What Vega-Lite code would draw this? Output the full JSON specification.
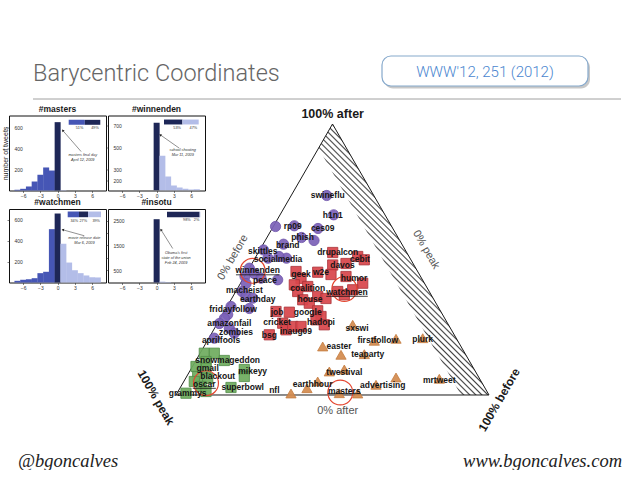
{
"$schema": "https://vega.github.io/schema/vega-lite/v6.json",
"padding": 0,
"background": "#ffffff",
"columns": 3,
"align": "none",
"bounds": "flush",
"spacing": {"row": 18.5, "column": 2},
"config": {"view": {"stroke": null}, "font": "Liberation Sans", "title": {"font": "Liberation Sans"}, "axis": {"labelFont": "Liberation Sans", "titleFont": "Liberation Sans"}},
"datasets": {
"hist": [
{"tag":"masters","day":-7,"tweets":7,"phase":"before"},
{"tag":"masters","day":-6,"tweets":16,"phase":"before"},
{"tag":"masters","day":-5,"tweets":38,"phase":"before"},
{"tag":"masters","day":-4,"tweets":85,"phase":"before"},
{"tag":"masters","day":-3,"tweets":149,"phase":"before"},
{"tag":"masters","day":-2,"tweets":218,"phase":"before"},
{"tag":"masters","day":-1,"tweets":189,"phase":"before"},
{"tag":"masters","day":0,"tweets":647,"phase":"peak"},
{"tag":"masters","day":1,"tweets":4,"phase":"after"},
{"tag":"winnenden","day":0,"tweets":724,"phase":"peak"},
{"tag":"winnenden","day":1,"tweets":422,"phase":"after"},
{"tag":"winnenden","day":2,"tweets":233,"phase":"after"},
{"tag":"winnenden","day":3,"tweets":151,"phase":"after"},
{"tag":"winnenden","day":4,"tweets":132,"phase":"after"},
{"tag":"winnenden","day":5,"tweets":121,"phase":"after"},
{"tag":"winnenden","day":6,"tweets":114,"phase":"after"},
{"tag":"winnenden","day":7,"tweets":116,"phase":"after"},
{"tag":"watchmen","day":-7,"tweets":16,"phase":"before"},
{"tag":"watchmen","day":-6,"tweets":26,"phase":"before"},
{"tag":"watchmen","day":-5,"tweets":31,"phase":"before"},
{"tag":"watchmen","day":-4,"tweets":41,"phase":"before"},
{"tag":"watchmen","day":-3,"tweets":89,"phase":"before"},
{"tag":"watchmen","day":-2,"tweets":102,"phase":"before"},
{"tag":"watchmen","day":-1,"tweets":508,"phase":"before"},
{"tag":"watchmen","day":0,"tweets":657,"phase":"peak"},
{"tag":"watchmen","day":1,"tweets":369,"phase":"after"},
{"tag":"watchmen","day":2,"tweets":190,"phase":"after"},
{"tag":"watchmen","day":3,"tweets":117,"phase":"after"},
{"tag":"watchmen","day":4,"tweets":89,"phase":"after"},
{"tag":"watchmen","day":5,"tweets":67,"phase":"after"},
{"tag":"watchmen","day":6,"tweets":50,"phase":"after"},
{"tag":"watchmen","day":7,"tweets":48,"phase":"after"},
{"tag":"insotu","day":0,"tweets":2562,"phase":"peak"},
{"tag":"insotu","day":1,"tweets":35,"phase":"after"},
{"tag":"insotu","day":2,"tweets":18,"phase":"after"}
],
"shares": [
{"tag":"masters","phase":"before","rank":1,"share":0.51,"label":"51%"},
{"tag":"masters","phase":"peak","rank":2,"share":0.49,"label":"49%"},
{"tag":"winnenden","phase":"peak","rank":2,"share":0.53,"label":"53%"},
{"tag":"winnenden","phase":"after","rank":3,"share":0.47,"label":"47%"},
{"tag":"watchmen","phase":"before","rank":1,"share":0.34,"label":"34%"},
{"tag":"watchmen","phase":"peak","rank":2,"share":0.27,"label":"27%"},
{"tag":"watchmen","phase":"after","rank":3,"share":0.39,"label":"39%"},
{"tag":"insotu","phase":"peak","rank":2,"share":0.98,"label":"98%"},
{"tag":"insotu","phase":"after","rank":3,"share":0.02,"label":"2%"}
],
"frame": [
{"i":0,"x":0,"y":0},{"i":1,"x":0.5,"y":1},{"i":2,"x":1,"y":0},{"i":3,"x":0,"y":0}
],
"hatch": [
{"x":0.4553,"top":0.9107,"bottom":0.9107},
{"x":0.5,"top":1,"bottom":0.8214},
{"x":0.9105,"top":0.1786,"bottom":0},
{"x":1,"top":0,"bottom":0}
],
"points": [
{"x":0.4815,"y":0.7362,"cluster":"c1"},{"x":0.5038,"y":0.6649,"cluster":"c1"},{"x":0.3180,"y":0.6218,"cluster":"c1"},{"x":0.3780,"y":0.6244,"cluster":"c1"},{"x":0.4537,"y":0.6144,"cluster":"c1"},{"x":0.4010,"y":0.5812,"cluster":"c1"},{"x":0.4409,"y":0.5701,"cluster":"c1"},{"x":0.3435,"y":0.5565,"cluster":"c1"},{"x":0.2796,"y":0.5351,"cluster":"c1"},{"x":0.2939,"y":0.5048,"cluster":"c1"},{"x":0.3530,"y":0.5048,"cluster":"c1"},{"x":0.3291,"y":0.5111,"cluster":"c1"},{"x":0.2342,"y":0.4679,"cluster":"c1"},{"x":0.2502,"y":0.4483,"cluster":"c1"},{"x":0.2204,"y":0.4373,"cluster":"c1"},{"x":0.2716,"y":0.4310,"cluster":"c1"},{"x":0.3249,"y":0.4251,"cluster":"c1"},{"x":0.2236,"y":0.4114,"cluster":"c1"},{"x":0.2109,"y":0.3819,"cluster":"c1"},{"x":0.2236,"y":0.3635,"cluster":"c1"},{"x":0.2450,"y":0.3572,"cluster":"c1"},{"x":0.1757,"y":0.3266,"cluster":"c1"},{"x":0.2342,"y":0.3192,"cluster":"c1"},{"x":0.1652,"y":0.2970,"cluster":"c1"},{"x":0.1543,"y":0.2823,"cluster":"c1"},{"x":0.1383,"y":0.2638,"cluster":"c1"},{"x":0.1703,"y":0.2465,"cluster":"c1"},{"x":0.1863,"y":0.2280,"cluster":"c1"},{"x":0.1224,"y":0.2096,"cluster":"c1"},
{"x":0.5006,"y":0.5258,"cluster":"c2"},{"x":0.5805,"y":0.5111,"cluster":"c2"},{"x":0.6016,"y":0.4989,"cluster":"c2"},{"x":0.5006,"y":0.4797,"cluster":"c2"},{"x":0.5431,"y":0.4852,"cluster":"c2"},{"x":0.3834,"y":0.4557,"cluster":"c2"},{"x":0.3994,"y":0.4299,"cluster":"c2"},{"x":0.4527,"y":0.4531,"cluster":"c2"},{"x":0.4952,"y":0.4446,"cluster":"c2"},{"x":0.5431,"y":0.4373,"cluster":"c2"},{"x":0.5965,"y":0.4125,"cluster":"c2"},{"x":0.3780,"y":0.4066,"cluster":"c2"},{"x":0.4208,"y":0.4004,"cluster":"c2"},{"x":0.3888,"y":0.3819,"cluster":"c2"},{"x":0.5166,"y":0.3819,"cluster":"c2"},{"x":0.5377,"y":0.3697,"cluster":"c2"},{"x":0.5645,"y":0.3882,"cluster":"c2"},{"x":0.4048,"y":0.3513,"cluster":"c2"},{"x":0.4527,"y":0.3635,"cluster":"c2"},{"x":0.4259,"y":0.3387,"cluster":"c2"},{"x":0.4792,"y":0.3561,"cluster":"c2"},{"x":0.3195,"y":0.3081,"cluster":"c2"},{"x":0.3620,"y":0.3055,"cluster":"c2"},{"x":0.4527,"y":0.3107,"cluster":"c2"},{"x":0.4633,"y":0.2897,"cluster":"c2"},{"x":0.3409,"y":0.2649,"cluster":"c2"},{"x":0.4473,"y":0.2775,"cluster":"c2"},{"x":0.4738,"y":0.2590,"cluster":"c2"},{"x":0.3514,"y":0.2406,"cluster":"c2"},{"x":0.3728,"y":0.2528,"cluster":"c2"},{"x":0.3994,"y":0.2528,"cluster":"c2"},{"x":0.2981,"y":0.2221,"cluster":"c2"},
{"x":0.5645,"y":0.2590,"cluster":"c3"},{"x":0.4687,"y":0.1790,"cluster":"c3"},{"x":0.5272,"y":0.1483,"cluster":"c3"},{"x":0.6016,"y":0.1506,"cluster":"c3"},{"x":0.6335,"y":0.2000,"cluster":"c3"},{"x":0.7029,"y":0.2074,"cluster":"c3"},{"x":0.7882,"y":0.2096,"cluster":"c3"},{"x":0.4898,"y":0.0867,"cluster":"c3"},{"x":0.5377,"y":0.0941,"cluster":"c3"},{"x":0.4185,"y":0.0251,"cluster":"c3"},{"x":0.4527,"y":0.0498,"cluster":"c3"},{"x":0.3674,"y":0.0055,"cluster":"c3"},{"x":0.5217,"y":0.0066,"cluster":"c3"},{"x":0.5805,"y":0.0055,"cluster":"c3"},{"x":0.6390,"y":0.0376,"cluster":"c3"},{"x":0.7029,"y":0.0646,"cluster":"c3"},{"x":0.8412,"y":0.0598,"cluster":"c3"},
{"x":0.0904,"y":0.1542,"cluster":"c4"},{"x":0.1224,"y":0.1542,"cluster":"c4"},{"x":0.0958,"y":0.1236,"cluster":"c4"},{"x":0.1543,"y":0.1273,"cluster":"c4"},{"x":0.0958,"y":0.0989,"cluster":"c4"},{"x":0.0639,"y":0.1052,"cluster":"c4"},{"x":0.0693,"y":0.0683,"cluster":"c4"},{"x":0.1013,"y":0.0609,"cluster":"c4"},{"x":0.2182,"y":0.0941,"cluster":"c4"},{"x":0.2182,"y":0.0683,"cluster":"c4"},{"x":0.0585,"y":0.0498,"cluster":"c4"},{"x":0.0799,"y":0.0314,"cluster":"c4"},{"x":0.1757,"y":0.0277,"cluster":"c4"},{"x":0.0319,"y":0.0066,"cluster":"c4"},{"x":0.0958,"y":0.0129,"cluster":"c4"}
],
"labels": [
{"tag":"swineflu","x":0.4847,"y":0.7380},{"tag":"h1n1","x":0.5006,"y":0.6624},{"tag":"rp09","x":0.3728,"y":0.6236},{"tag":"ces09","x":0.4687,"y":0.6162},{"tag":"phish","x":0.4048,"y":0.5812},{"tag":"brand","x":0.3569,"y":0.5542},{"tag":"skittles","x":0.2770,"y":0.5314},{"tag":"socialmedia","x":0.3259,"y":0.5018},{"tag":"winnenden","x":0.2610,"y":0.4594},{"tag":"peace","x":0.2843,"y":0.4244},{"tag":"macheist","x":0.2182,"y":0.3882},{"tag":"earthday","x":0.2610,"y":0.3550},{"tag":"fridayfollow","x":0.1821,"y":0.3155},{"tag":"amazonfail","x":0.1703,"y":0.2675},{"tag":"zombies","x":0.1917,"y":0.2317},{"tag":"aprilfools","x":0.1438,"y":0.2037},
{"tag":"drupalcon","x":0.5166,"y":0.5277},{"tag":"cebit","x":0.5879,"y":0.5026},{"tag":"davos","x":0.5319,"y":0.4797},{"tag":"geek","x":0.3994,"y":0.4472},{"tag":"w2e","x":0.4633,"y":0.4531},{"tag":"humor","x":0.5687,"y":0.4310},{"tag":"coalition","x":0.4208,"y":0.3941},{"tag":"watchmen","x":0.5463,"y":0.3793},{"tag":"house","x":0.4281,"y":0.3524},{"tag":"job","x":0.3227,"y":0.3081},{"tag":"google","x":0.4208,"y":0.3055},{"tag":"cricket","x":0.3227,"y":0.2686},{"tag":"hadopi","x":0.4633,"y":0.2712},{"tag":"inaug09","x":0.3834,"y":0.2369},{"tag":"bsg","x":0.2981,"y":0.2221},
{"tag":"sxswi","x":0.5783,"y":0.2480},{"tag":"easter","x":0.5208,"y":0.1790},{"tag":"firstfollow","x":0.6444,"y":0.2018},{"tag":"plurk","x":0.7882,"y":0.2074},{"tag":"teaparty","x":0.6125,"y":0.1506},{"tag":"twestival","x":0.5377,"y":0.0841},{"tag":"earthhour","x":0.4367,"y":0.0399},{"tag":"nfl","x":0.3141,"y":0.0166},{"tag":"masters","x":0.5377,"y":0.0155},{"tag":"advertising","x":0.6604,"y":0.0376},{"tag":"mrtweet","x":0.8412,"y":0.0535},
{"tag":"snowmageddon","x":0.1652,"y":0.1300},{"tag":"gmail","x":0.1013,"y":0.0990},{"tag":"blackout","x":0.1332,"y":0.0690},{"tag":"mikeyy","x":0.2450,"y":0.0867},{"tag":"oscar","x":0.0904,"y":0.0399},{"tag":"superbowl","x":0.2131,"y":0.0277},{"tag":"grammys","x":0.0374,"y":0.0092}
],
"highlight": [
{"tag":"winnenden","x":0.2450,"y":0.4583},{"tag":"watchmen","x":0.5377,"y":0.3911},{"tag":"masters","x":0.5249,"y":0.0092},{"tag":"oscar","x":0.0958,"y":0.0435}
],
"underline": [
{"tag":"winnenden","x1":0.1915,"x2":0.3305,"y":0.4435},{"tag":"watchmen","x1":0.4800,"x2":0.6127,"y":0.3642},{"tag":"masters","x1":0.4844,"x2":0.5907,"y":0.0050},{"tag":"oscar","x1":0.0535,"x2":0.1273,"y":0.0246}
]
},
"concat": [
{
"width": 97, "height": 95.5,
"layer": [
{"data": {"values": [{}]}, "mark": {"type": "rule", "color": "#ffffff", "strokeWidth": 0.5}, "encoding": {"x": {"datum": -8, "type": "quantitative", "scale": {"domain": [0, 97], "nice": false, "zero": false}, "axis": null}, "y": {"datum": 0, "type": "quantitative", "scale": {"domain": [0, 95.5], "nice": false, "zero": false, "reverse": true}, "axis": null}, "y2": {"datum": 3}}},
{"data": {"values": [{}]}, "mark": {"type": "text", "text": "Barycentric Coordinates", "font": "Roboto", "fontWeight": 300, "fontSize": 23.5, "color": "#666666", "align": "left", "baseline": "alphabetic"}, "encoding": {"x": {"datum": 24, "type": "quantitative", "scale": {"domain": [0, 97], "nice": false, "zero": false}, "axis": null}, "y": {"datum": 79.5, "type": "quantitative", "scale": {"domain": [0, 95.5], "nice": false, "zero": false, "reverse": true}, "axis": null}}},
{"data": {"values": [{}]}, "mark": {"type": "rect", "fill": "#9a9a9a", "opacity": 0.55, "cornerRadius": 9}, "encoding": {"x": {"datum": 375, "type": "quantitative", "scale": {"domain": [0, 97], "nice": false, "zero": false}, "axis": null}, "x2": {"datum": 581}, "y": {"datum": 57.5, "type": "quantitative", "scale": {"domain": [0, 95.5], "nice": false, "zero": false, "reverse": true}, "axis": null}, "y2": {"datum": 87.5}}},
{"data": {"values": [{}]}, "mark": {"type": "rect", "fill": "#ffffff", "stroke": "#86a9cc", "strokeWidth": 1.2, "cornerRadius": 9}, "encoding": {"x": {"datum": 373, "type": "quantitative", "scale": {"domain": [0, 97], "nice": false, "zero": false}, "axis": null}, "x2": {"datum": 579}, "y": {"datum": 55, "type": "quantitative", "scale": {"domain": [0, 95.5], "nice": false, "zero": false, "reverse": true}, "axis": null}, "y2": {"datum": 85}}},
{"data": {"values": [{}]}, "mark": {"type": "text", "text": "WWW'12, 251 (2012)", "font": "Roboto", "fontWeight": 300, "fontSize": 15, "color": "#4a86cf", "align": "center", "baseline": "middle"}, "encoding": {"x": {"datum": 476, "type": "quantitative", "scale": {"domain": [0, 97], "nice": false, "zero": false}, "axis": null}, "y": {"datum": 70.5, "type": "quantitative", "scale": {"domain": [0, 95.5], "nice": false, "zero": false, "reverse": true}, "axis": null}}},
{"data": {"values": [{}]}, "mark": {"type": "rule", "color": "#a0a0a0", "strokeWidth": 1}, "encoding": {"x": {"datum": 24, "type": "quantitative", "scale": {"domain": [0, 97], "nice": false, "zero": false}, "axis": null}, "x2": {"datum": 612}, "y": {"datum": 98, "type": "quantitative", "scale": {"domain": [0, 95.5], "nice": false, "zero": false, "reverse": true}, "axis": null}}}
]
},
{"width": 97, "height": 95.5, "data": {"values": [{}]}, "mark": {"type": "text", "text": ""}, "encoding": {}},
{"width": 420, "height": 95.5, "data": {"values": [{}]}, "mark": {"type": "text", "text": ""}, "encoding": {}},
{
"width": 97, "height": 75,
"view": {"stroke": "#111111", "strokeWidth": 1},
"title": {"text": "#masters", "fontSize": 8.5, "fontWeight": "bold", "color": "#1a1a1a", "offset": 2.5, "anchor": "middle"},
"resolve": {"scale": {"x": "independent", "y": "independent"}},
"layer": [
{"data": {"name": "hist"}, "transform": [{"filter": "datum.tag === 'masters'"}], "mark": {"type": "bar", "size": 6, "orient": "vertical"},
 "encoding": {
  "x": {"field": "day", "type": "quantitative", "scale": {"domain": [-7.6, 7.55], "nice": false, "zero": false}, "axis": {"values": [-6, -3, 0, 3, 6], "title": null, "grid": false, "domain": false, "labelFontSize": 5, "labelColor": "#333333", "labelPadding": 0.5, "tickSize": 2, "tickWidth": 0.6, "tickColor": "#333333", "labelFlush": false, "labelOverlap": false}},
  "y": {"field": "tweets", "type": "quantitative", "scale": {"domain": [0, 710], "nice": false}, "axis": {"values": [200, 400, 600], "title": "number of tweets", "titleFontSize": 7, "titleFontWeight": "normal", "titleColor": "#222222", "titleX": -1, "titleY": 37.5, "titleAngle": 270, "titleBaseline": "bottom", "titleAlign": "center", "grid": false, "domain": false, "labelFontSize": 5, "labelColor": "#333333", "labelAlign": "left", "labelBaseline": "middle", "labelPadding": -7, "tickSize": 2, "tickWidth": 0.6, "tickColor": "#333333", "labelOverlap": false}},
  "color": {"field": "phase", "type": "nominal", "scale": {"domain": ["before", "peak", "after"], "range": ["#4656b5", "#1e2757", "#b3bde8"]}, "legend": null}}},
{"data": {"name": "shares"}, "transform": [{"filter": "datum.tag === 'masters'"}, {"stack": "share", "groupby": ["tag"], "sort": [{"field": "rank", "order": "ascending"}], "as": ["s0", "s1"]}], "mark": {"type": "rect"},
 "encoding": {"x": {"field": "s0", "type": "quantitative", "scale": {"domain": [0, 1], "range": [59.7, 91.3], "nice": false, "zero": false}, "axis": null}, "x2": {"field": "s1"}, "y": {"datum": 669, "type": "quantitative", "scale": {"domain": [0, 710], "nice": false}, "axis": null}, "y2": {"datum": 622}, "color": {"field": "phase", "type": "nominal", "scale": {"domain": ["before", "peak", "after"], "range": ["#4656b5", "#1e2757", "#b3bde8"]}, "legend": null}}},
{"data": {"name": "shares"}, "transform": [{"filter": "datum.tag === 'masters'"}, {"stack": "share", "groupby": ["tag"], "sort": [{"field": "rank", "order": "ascending"}], "as": ["s0", "s1"]}], "mark": {"type": "text", "align": "right", "dx": -1.5, "fontSize": 3.8, "baseline": "middle", "color": "#333333"},
 "encoding": {"x": {"field": "s1", "type": "quantitative", "scale": {"domain": [0, 1], "range": [59.7, 91.3], "nice": false, "zero": false}, "axis": null}, "y": {"datum": 587, "type": "quantitative", "scale": {"domain": [0, 710], "nice": false}, "axis": null}, "text": {"field": "label"}}},
{"data": {"values": [{}]}, "mark": {"type": "rule", "color": "#222222", "strokeWidth": 0.5}, "encoding": {"x": {"datum": 3.66, "type": "quantitative", "scale": {"domain": [-7.6, 7.55], "nice": false, "zero": false}, "axis": null}, "x2": {"datum": 0.8}, "y": {"datum": 369, "type": "quantitative", "scale": {"domain": [0, 710], "nice": false}, "axis": null}, "y2": {"datum": 568}}},
{"data": {"values": [{}]}, "mark": {"type": "point", "shape": "triangle-up", "filled": true, "size": 8, "angle": 319, "color": "#222222", "opacity": 1}, "encoding": {"x": {"datum": 0.8, "type": "quantitative", "scale": {"domain": [-7.6, 7.55], "nice": false, "zero": false}, "axis": null}, "y": {"datum": 568, "type": "quantitative", "scale": {"domain": [0, 710], "nice": false}, "axis": null}}},
{"data": {"values": [{}]}, "mark": {"type": "text", "text": ["masters final day", "April 12, 2009"], "fontSize": 3.8, "fontStyle": "italic", "lineHeight": 4.7, "align": "center", "baseline": "top", "color": "#333333"}, "encoding": {"x": {"datum": 3.92, "type": "quantitative", "scale": {"domain": [-7.6, 7.55], "nice": false, "zero": false}, "axis": null}, "y": {"datum": 356, "type": "quantitative", "scale": {"domain": [0, 710], "nice": false}, "axis": null}}}
]
},
{
"width": 97, "height": 75,
"view": {"stroke": "#111111", "strokeWidth": 1},
"title": {"text": "#winnenden", "fontSize": 8.5, "fontWeight": "bold", "color": "#1a1a1a", "offset": 2.5, "anchor": "middle"},
"resolve": {"scale": {"x": "independent", "y": "independent"}},
"layer": [
{"data": {"name": "hist"}, "transform": [{"filter": "datum.tag === 'winnenden'"}], "mark": {"type": "bar", "size": 6, "orient": "vertical", "clip": true},
 "encoding": {
  "x": {"field": "day", "type": "quantitative", "scale": {"domain": [-7.6, 7.55], "nice": false, "zero": false}, "axis": {"values": [-6, -3, 0, 3, 6], "title": null, "grid": false, "domain": false, "labelFontSize": 5, "labelColor": "#333333", "labelPadding": 0.5, "tickSize": 2, "tickWidth": 0.6, "tickColor": "#333333", "labelFlush": false, "labelOverlap": false}},
  "y": {"field": "tweets", "type": "quantitative", "scale": {"domain": [105, 791], "nice": false, "zero": false}, "axis": {"values": [200, 300, 500, 700], "title": null, "grid": false, "domain": false, "labelFontSize": 5, "labelColor": "#333333", "labelAlign": "left", "labelBaseline": "middle", "labelPadding": -7, "tickSize": 2, "tickWidth": 0.6, "tickColor": "#333333", "labelOverlap": false}},
  "y2": {"datum": 105},
  "color": {"field": "phase", "type": "nominal", "scale": {"domain": ["before", "peak", "after"], "range": ["#4656b5", "#1e2757", "#b3bde8"]}, "legend": null}}},
{"data": {"name": "shares"}, "transform": [{"filter": "datum.tag === 'winnenden'"}, {"stack": "share", "groupby": ["tag"], "sort": [{"field": "rank", "order": "ascending"}], "as": ["s0", "s1"]}], "mark": {"type": "rect"},
 "encoding": {"x": {"field": "s0", "type": "quantitative", "scale": {"domain": [0, 1], "range": [56, 90.7], "nice": false, "zero": false}, "axis": null}, "x2": {"field": "s1"}, "y": {"datum": 754, "type": "quantitative", "scale": {"domain": [105, 791], "nice": false, "zero": false}, "axis": null}, "y2": {"datum": 709}, "color": {"field": "phase", "type": "nominal", "scale": {"domain": ["before", "peak", "after"], "range": ["#4656b5", "#1e2757", "#b3bde8"]}, "legend": null}}},
{"data": {"name": "shares"}, "transform": [{"filter": "datum.tag === 'winnenden'"}, {"stack": "share", "groupby": ["tag"], "sort": [{"field": "rank", "order": "ascending"}], "as": ["s0", "s1"]}], "mark": {"type": "text", "align": "right", "dx": -1.5, "fontSize": 3.8, "baseline": "middle", "color": "#333333"},
 "encoding": {"x": {"field": "s1", "type": "quantitative", "scale": {"domain": [0, 1], "range": [56, 90.7], "nice": false, "zero": false}, "axis": null}, "y": {"datum": 675, "type": "quantitative", "scale": {"domain": [105, 791], "nice": false, "zero": false}, "axis": null}, "text": {"field": "label"}}},
{"data": {"values": [{}]}, "mark": {"type": "rule", "color": "#222222", "strokeWidth": 0.5}, "encoding": {"x": {"datum": 3.54, "type": "quantitative", "scale": {"domain": [-7.6, 7.55], "nice": false, "zero": false}, "axis": null}, "x2": {"datum": 0.57}, "y": {"datum": 492, "type": "quantitative", "scale": {"domain": [105, 791], "nice": false, "zero": false}, "axis": null}, "y2": {"datum": 614}}},
{"data": {"values": [{}]}, "mark": {"type": "point", "shape": "triangle-up", "filled": true, "size": 8, "angle": 305, "color": "#222222", "opacity": 1}, "encoding": {"x": {"datum": 0.57, "type": "quantitative", "scale": {"domain": [-7.6, 7.55], "nice": false, "zero": false}, "axis": null}, "y": {"datum": 614, "type": "quantitative", "scale": {"domain": [105, 791], "nice": false, "zero": false}, "axis": null}}},
{"data": {"values": [{}]}, "mark": {"type": "text", "text": ["school shooting", "Mar 11, 2009"], "fontSize": 3.8, "fontStyle": "italic", "lineHeight": 4.7, "align": "center", "baseline": "top", "color": "#333333"}, "encoding": {"x": {"datum": 4.07, "type": "quantitative", "scale": {"domain": [-7.6, 7.55], "nice": false, "zero": false}, "axis": null}, "y": {"datum": 495, "type": "quantitative", "scale": {"domain": [105, 791], "nice": false, "zero": false}, "axis": null}}}
]
},
{
"width": 420, "height": 75,
"layer": [
{"data": {"name": "hatch"}, "mark": {"type": "area", "orient": "vertical", "fill": {"gradient": "linear", "x1": 0, "y1": 1, "x2": 0.629, "y2": 0, "stops": [
{"offset":0,"color":"#ffffff"},{"offset":0.332,"color":"#ffffff"},
{"offset":0.336,"color":"#444444"},{"offset":0.340,"color":"#ffffff"},{"offset":0.348,"color":"#ffffff"},
{"offset":0.352,"color":"#444444"},{"offset":0.356,"color":"#ffffff"},{"offset":0.364,"color":"#ffffff"},
{"offset":0.368,"color":"#444444"},{"offset":0.372,"color":"#ffffff"},{"offset":0.380,"color":"#ffffff"},
{"offset":0.384,"color":"#444444"},{"offset":0.388,"color":"#ffffff"},{"offset":0.396,"color":"#ffffff"},
{"offset":0.400,"color":"#444444"},{"offset":0.404,"color":"#ffffff"},{"offset":0.412,"color":"#ffffff"},
{"offset":0.416,"color":"#444444"},{"offset":0.420,"color":"#ffffff"},{"offset":0.428,"color":"#ffffff"},
{"offset":0.432,"color":"#444444"},{"offset":0.436,"color":"#ffffff"},{"offset":0.444,"color":"#ffffff"},
{"offset":0.448,"color":"#444444"},{"offset":0.452,"color":"#ffffff"},{"offset":0.460,"color":"#ffffff"},
{"offset":0.464,"color":"#444444"},{"offset":0.468,"color":"#ffffff"},{"offset":0.476,"color":"#ffffff"},
{"offset":0.480,"color":"#444444"},{"offset":0.484,"color":"#ffffff"},{"offset":0.492,"color":"#ffffff"},
{"offset":0.496,"color":"#444444"},{"offset":0.500,"color":"#ffffff"},{"offset":0.508,"color":"#ffffff"},
{"offset":0.512,"color":"#444444"},{"offset":0.516,"color":"#ffffff"},{"offset":0.524,"color":"#ffffff"},
{"offset":0.528,"color":"#444444"},{"offset":0.532,"color":"#ffffff"},{"offset":0.540,"color":"#ffffff"},
{"offset":0.544,"color":"#444444"},{"offset":0.548,"color":"#ffffff"},{"offset":0.556,"color":"#ffffff"},
{"offset":0.560,"color":"#444444"},{"offset":0.564,"color":"#ffffff"},{"offset":0.572,"color":"#ffffff"},
{"offset":0.576,"color":"#444444"},{"offset":0.580,"color":"#ffffff"},{"offset":0.588,"color":"#ffffff"},
{"offset":0.592,"color":"#444444"},{"offset":0.596,"color":"#ffffff"},{"offset":0.604,"color":"#ffffff"},
{"offset":0.608,"color":"#444444"},{"offset":0.612,"color":"#ffffff"},{"offset":0.620,"color":"#ffffff"},
{"offset":0.624,"color":"#444444"},{"offset":0.628,"color":"#ffffff"},{"offset":0.636,"color":"#ffffff"},
{"offset":0.640,"color":"#444444"},{"offset":0.644,"color":"#ffffff"},{"offset":0.652,"color":"#ffffff"},
{"offset":0.656,"color":"#444444"},{"offset":0.660,"color":"#ffffff"},{"offset":0.668,"color":"#ffffff"},
{"offset":0.672,"color":"#444444"},{"offset":0.676,"color":"#ffffff"},{"offset":0.684,"color":"#ffffff"},
{"offset":0.688,"color":"#444444"},{"offset":0.692,"color":"#ffffff"},{"offset":0.700,"color":"#ffffff"},
{"offset":0.704,"color":"#444444"},{"offset":0.708,"color":"#ffffff"},{"offset":0.716,"color":"#ffffff"},
{"offset":0.720,"color":"#444444"},{"offset":0.724,"color":"#ffffff"},{"offset":0.732,"color":"#ffffff"},
{"offset":0.736,"color":"#444444"},{"offset":0.740,"color":"#ffffff"},{"offset":0.748,"color":"#ffffff"},
{"offset":0.752,"color":"#444444"},{"offset":0.756,"color":"#ffffff"},{"offset":0.764,"color":"#ffffff"},
{"offset":0.768,"color":"#444444"},{"offset":0.772,"color":"#ffffff"},{"offset":0.780,"color":"#ffffff"},
{"offset":0.784,"color":"#444444"},{"offset":0.788,"color":"#ffffff"},{"offset":0.796,"color":"#ffffff"},
{"offset":0.800,"color":"#444444"},{"offset":0.804,"color":"#ffffff"},{"offset":1,"color":"#ffffff"}
]}},
 "encoding": {"x": {"field": "x", "type": "quantitative", "scale": {"domain": [0.09904, 1.44089], "nice": false, "zero": false}, "axis": null}, "y": {"field": "top", "type": "quantitative", "scale": {"domain": [0.75461, 1.03137], "nice": false, "zero": false}, "axis": null}, "y2": {"field": "bottom"}}},
{"data": {"name": "frame"}, "mark": {"type": "line", "color": "#1a1a1a", "strokeWidth": 1},
 "encoding": {"x": {"field": "x", "type": "quantitative", "scale": {"domain": [0.09904, 1.44089], "nice": false, "zero": false}, "axis": null}, "y": {"field": "y", "type": "quantitative", "scale": {"domain": [0.75461, 1.03137], "nice": false, "zero": false}, "axis": null}, "order": {"field": "i", "type": "quantitative"}}},
{"data": {"name": "points"}, "mark": {"type": "point", "filled": true, "size": 105, "fillOpacity": 0.93, "strokeWidth": 0.8, "strokeOpacity": 1},
 "encoding": {"x": {"field": "x", "type": "quantitative", "scale": {"domain": [0.09904, 1.44089], "nice": false, "zero": false}, "axis": null}, "y": {"field": "y", "type": "quantitative", "scale": {"domain": [0.75461, 1.03137], "nice": false, "zero": false}, "axis": null},
  "shape": {"field": "cluster", "type": "nominal", "scale": {"domain": ["c1", "c2", "c3", "c4"], "range": ["circle", "square", "triangle-up", "square"]}, "legend": null},
  "fill": {"field": "cluster", "type": "nominal", "scale": {"domain": ["c1", "c2", "c3", "c4"], "range": ["#7c62b8", "#d8464b", "#d38b4f", "#6fac5f"]}, "legend": null},
  "stroke": {"field": "cluster", "type": "nominal", "scale": {"domain": ["c1", "c2", "c3", "c4"], "range": ["#6c52a8", "#a9343a", "#c47c40", "#518d47"]}, "legend": null}}},
{"data": {"name": "highlight"}, "mark": {"type": "point", "shape": "circle", "filled": false, "size": 620, "color": "#e4452f", "strokeWidth": 1.2, "opacity": 1},
 "encoding": {"x": {"field": "x", "type": "quantitative", "scale": {"domain": [0.09904, 1.44089], "nice": false, "zero": false}, "axis": null}, "y": {"field": "y", "type": "quantitative", "scale": {"domain": [0.75461, 1.03137], "nice": false, "zero": false}, "axis": null}}},
{"data": {"name": "underline"}, "mark": {"type": "rule", "color": "#111111", "strokeWidth": 0.8},
 "encoding": {"x": {"field": "x1", "type": "quantitative", "scale": {"domain": [0.09904, 1.44089], "nice": false, "zero": false}, "axis": null}, "x2": {"field": "x2"}, "y": {"field": "y", "type": "quantitative", "scale": {"domain": [0.75461, 1.03137], "nice": false, "zero": false}, "axis": null}}},
{"data": {"name": "labels"}, "mark": {"type": "text", "fontSize": 8.5, "fontWeight": "bold", "font": "Liberation Sans", "color": "#151515", "align": "center", "baseline": "middle"},
 "encoding": {"x": {"field": "x", "type": "quantitative", "scale": {"domain": [0.09904, 1.44089], "nice": false, "zero": false}, "axis": null}, "y": {"field": "y", "type": "quantitative", "scale": {"domain": [0.75461, 1.03137], "nice": false, "zero": false}, "axis": null}, "text": {"field": "tag"}}},
{"data": {"values": [{"label": "100% after", "x": 0.5006, "y": 1.0376}]}, "mark": {"type": "text", "fontSize": 12.5, "fontWeight": "bold", "color": "#1a1a1a", "align": "center", "baseline": "middle"},
 "encoding": {"x": {"field": "x", "type": "quantitative", "scale": {"domain": [0.09904, 1.44089], "nice": false, "zero": false}, "axis": null}, "y": {"field": "y", "type": "quantitative", "scale": {"domain": [0.75461, 1.03137], "nice": false, "zero": false}, "axis": null}, "text": {"field": "label"}}},
{"data": {"values": [{"label": "0% after", "x": 0.5166, "y": -0.0609}]}, "mark": {"type": "text", "fontSize": 11, "color": "#555555", "align": "center", "baseline": "middle"},
 "encoding": {"x": {"field": "x", "type": "quantitative", "scale": {"domain": [0.09904, 1.44089], "nice": false, "zero": false}, "axis": null}, "y": {"field": "y", "type": "quantitative", "scale": {"domain": [0.75461, 1.03137], "nice": false, "zero": false}, "axis": null}, "text": {"field": "label"}}},
{"data": {"values": [{"label": "0% before", "x": 0.1821, "y": 0.5074}]}, "mark": {"type": "text", "fontSize": 11, "color": "#555555", "align": "center", "baseline": "middle", "angle": 300},
 "encoding": {"x": {"field": "x", "type": "quantitative", "scale": {"domain": [0.09904, 1.44089], "nice": false, "zero": false}, "axis": null}, "y": {"field": "y", "type": "quantitative", "scale": {"domain": [0.75461, 1.03137], "nice": false, "zero": false}, "axis": null}, "text": {"field": "label"}}},
{"data": {"values": [{"label": "0% peak", "x": 0.7987, "y": 0.5358}]}, "mark": {"type": "text", "fontSize": 11, "color": "#555555", "align": "center", "baseline": "middle", "angle": 60},
 "encoding": {"x": {"field": "x", "type": "quantitative", "scale": {"domain": [0.09904, 1.44089], "nice": false, "zero": false}, "axis": null}, "y": {"field": "y", "type": "quantitative", "scale": {"domain": [0.75461, 1.03137], "nice": false, "zero": false}, "axis": null}, "text": {"field": "label"}}},
{"data": {"values": [{"label": "100% peak", "x": -0.0639, "y": -0.0092}]}, "mark": {"type": "text", "fontSize": 12, "fontWeight": "bold", "color": "#1a1a1a", "align": "center", "baseline": "middle", "angle": 60},
 "encoding": {"x": {"field": "x", "type": "quantitative", "scale": {"domain": [0.09904, 1.44089], "nice": false, "zero": false}, "axis": null}, "y": {"field": "y", "type": "quantitative", "scale": {"domain": [0.75461, 1.03137], "nice": false, "zero": false}, "axis": null}, "text": {"field": "label"}}},
{"data": {"values": [{"label": "100% before", "x": 1.0329, "y": -0.0177}]}, "mark": {"type": "text", "fontSize": 12, "fontWeight": "bold", "color": "#1a1a1a", "align": "center", "baseline": "middle", "angle": 300},
 "encoding": {"x": {"field": "x", "type": "quantitative", "scale": {"domain": [0.09904, 1.44089], "nice": false, "zero": false}, "axis": null}, "y": {"field": "y", "type": "quantitative", "scale": {"domain": [0.75461, 1.03137], "nice": false, "zero": false}, "axis": null}, "text": {"field": "label"}}}
]
},
{
"width": 97, "height": 73.5,
"view": {"stroke": "#111111", "strokeWidth": 1},
"title": {"text": "#watchmen", "fontSize": 8.5, "fontWeight": "bold", "color": "#1a1a1a", "offset": 2.5, "anchor": "middle"},
"resolve": {"scale": {"x": "independent", "y": "independent"}},
"layer": [
{"data": {"name": "hist"}, "transform": [{"filter": "datum.tag === 'watchmen'"}], "mark": {"type": "bar", "size": 6, "orient": "vertical"},
 "encoding": {
  "x": {"field": "day", "type": "quantitative", "scale": {"domain": [-7.6, 7.55], "nice": false, "zero": false}, "axis": {"values": [-6, -3, 0, 3, 6], "title": null, "grid": false, "domain": false, "labelFontSize": 5, "labelColor": "#333333", "labelPadding": 0.5, "tickSize": 2, "tickWidth": 0.6, "tickColor": "#333333", "labelFlush": false, "labelOverlap": false}},
  "y": {"field": "tweets", "type": "quantitative", "scale": {"domain": [0, 700], "nice": false}, "axis": {"values": [200, 400, 600], "title": null, "grid": false, "domain": false, "labelFontSize": 5, "labelColor": "#333333", "labelAlign": "left", "labelBaseline": "middle", "labelPadding": -7, "tickSize": 2, "tickWidth": 0.6, "tickColor": "#333333", "labelOverlap": false}},
  "color": {"field": "phase", "type": "nominal", "scale": {"domain": ["before", "peak", "after"], "range": ["#4656b5", "#1e2757", "#b3bde8"]}, "legend": null}}},
{"data": {"name": "shares"}, "transform": [{"filter": "datum.tag === 'watchmen'"}, {"stack": "share", "groupby": ["tag"], "sort": [{"field": "rank", "order": "ascending"}], "as": ["s0", "s1"]}], "mark": {"type": "rect"},
 "encoding": {"x": {"field": "s0", "type": "quantitative", "scale": {"domain": [0, 1], "range": [58.7, 92], "nice": false, "zero": false}, "axis": null}, "x2": {"field": "s1"}, "y": {"datum": 676, "type": "quantitative", "scale": {"domain": [0, 700], "nice": false}, "axis": null}, "y2": {"datum": 622}, "color": {"field": "phase", "type": "nominal", "scale": {"domain": ["before", "peak", "after"], "range": ["#4656b5", "#1e2757", "#b3bde8"]}, "legend": null}}},
{"data": {"name": "shares"}, "transform": [{"filter": "datum.tag === 'watchmen'"}, {"stack": "share", "groupby": ["tag"], "sort": [{"field": "rank", "order": "ascending"}], "as": ["s0", "s1"]}], "mark": {"type": "text", "align": "right", "dx": -1, "fontSize": 3.8, "baseline": "middle", "color": "#333333"},
 "encoding": {"x": {"field": "s1", "type": "quantitative", "scale": {"domain": [0, 1], "range": [58.7, 92], "nice": false, "zero": false}, "axis": null}, "y": {"datum": 588, "type": "quantitative", "scale": {"domain": [0, 700], "nice": false}, "axis": null}, "text": {"field": "label"}}},
{"data": {"values": [{}]}, "mark": {"type": "rule", "color": "#222222", "strokeWidth": 0.5}, "encoding": {"x": {"datum": 4.17, "type": "quantitative", "scale": {"domain": [-7.6, 7.55], "nice": false, "zero": false}, "axis": null}, "x2": {"datum": 0.8}, "y": {"datum": 445, "type": "quantitative", "scale": {"domain": [0, 700], "nice": false}, "axis": null}, "y2": {"datum": 502}}},
{"data": {"values": [{}]}, "mark": {"type": "point", "shape": "triangle-up", "filled": true, "size": 8, "angle": 286, "color": "#222222", "opacity": 1}, "encoding": {"x": {"datum": 0.8, "type": "quantitative", "scale": {"domain": [-7.6, 7.55], "nice": false, "zero": false}, "axis": null}, "y": {"datum": 502, "type": "quantitative", "scale": {"domain": [0, 700], "nice": false}, "axis": null}}},
{"data": {"values": [{}]}, "mark": {"type": "text", "text": ["movie release date", "Mar 6, 2009"], "fontSize": 3.8, "fontStyle": "italic", "lineHeight": 4.7, "align": "center", "baseline": "top", "color": "#333333"}, "encoding": {"x": {"datum": 4.17, "type": "quantitative", "scale": {"domain": [-7.6, 7.55], "nice": false, "zero": false}, "axis": null}, "y": {"datum": 440, "type": "quantitative", "scale": {"domain": [0, 700], "nice": false}, "axis": null}}}
]
},
{
"width": 97, "height": 73.5,
"view": {"stroke": "#111111", "strokeWidth": 1},
"title": {"text": "#insotu", "fontSize": 8.5, "fontWeight": "bold", "color": "#1a1a1a", "offset": 2.5, "anchor": "middle"},
"resolve": {"scale": {"x": "independent", "y": "independent"}},
"layer": [
{"data": {"name": "hist"}, "transform": [{"filter": "datum.tag === 'insotu'"}], "mark": {"type": "bar", "size": 6, "orient": "vertical"},
 "encoding": {
  "x": {"field": "day", "type": "quantitative", "scale": {"domain": [-7.6, 7.55], "nice": false, "zero": false}, "axis": {"values": [-6, -3, 0, 3, 6], "title": null, "grid": false, "domain": false, "labelFontSize": 5, "labelColor": "#333333", "labelPadding": 0.5, "tickSize": 2, "tickWidth": 0.6, "tickColor": "#333333", "labelFlush": false, "labelOverlap": false}},
  "y": {"field": "tweets", "type": "quantitative", "scale": {"domain": [0, 2975], "nice": false}, "axis": {"values": [500, 1000, 1500, 2000, 2500], "format": "d", "labelExpr": "datum.value % 1000 === 500 ? datum.label : ''", "title": null, "grid": false, "domain": false, "labelFontSize": 5, "labelColor": "#333333", "labelAlign": "left", "labelBaseline": "middle", "labelPadding": -7, "tickSize": 2, "tickWidth": 0.6, "tickColor": "#333333", "labelOverlap": false}},
  "color": {"field": "phase", "type": "nominal", "scale": {"domain": ["before", "peak", "after"], "range": ["#4656b5", "#1e2757", "#b3bde8"]}, "legend": null}}},
{"data": {"name": "shares"}, "transform": [{"filter": "datum.tag === 'insotu'"}, {"stack": "share", "groupby": ["tag"], "sort": [{"field": "rank", "order": "ascending"}], "as": ["s0", "s1"]}], "mark": {"type": "rect"},
 "encoding": {"x": {"field": "s0", "type": "quantitative", "scale": {"domain": [0, 1], "range": [59, 92.3], "nice": false, "zero": false}, "axis": null}, "x2": {"field": "s1"}, "y": {"datum": 2862, "type": "quantitative", "scale": {"domain": [0, 2975], "nice": false}, "axis": null}, "y2": {"datum": 2643}, "color": {"field": "phase", "type": "nominal", "scale": {"domain": ["before", "peak", "after"], "range": ["#4656b5", "#1e2757", "#b3bde8"]}, "legend": null}}},
{"data": {"name": "shares"}, "transform": [{"filter": "datum.tag === 'insotu'"}, {"stack": "share", "groupby": ["tag"], "sort": [{"field": "rank", "order": "ascending"}], "as": ["s0", "s1"]}, {"filter": "datum.phase === 'peak'"}], "mark": {"type": "text", "align": "right", "dx": -9, "fontSize": 3.8, "baseline": "middle", "color": "#333333"},
 "encoding": {"x": {"field": "s1", "type": "quantitative", "scale": {"domain": [0, 1], "range": [59, 92.3], "nice": false, "zero": false}, "axis": null}, "y": {"datum": 2538, "type": "quantitative", "scale": {"domain": [0, 2975], "nice": false}, "axis": null}, "text": {"field": "label"}}},
{"data": {"name": "shares"}, "transform": [{"filter": "datum.tag === 'insotu'"}, {"stack": "share", "groupby": ["tag"], "sort": [{"field": "rank", "order": "ascending"}], "as": ["s0", "s1"]}, {"filter": "datum.phase === 'after'"}], "mark": {"type": "text", "align": "right", "dx": -1, "fontSize": 3.8, "baseline": "middle", "color": "#333333"},
 "encoding": {"x": {"field": "s1", "type": "quantitative", "scale": {"domain": [0, 1], "range": [59, 92.3], "nice": false, "zero": false}, "axis": null}, "y": {"datum": 2538, "type": "quantitative", "scale": {"domain": [0, 2975], "nice": false}, "axis": null}, "text": {"field": "label"}}},
{"data": {"values": [{}]}, "mark": {"type": "rule", "color": "#222222", "strokeWidth": 0.5}, "encoding": {"x": {"datum": 2.51, "type": "quantitative", "scale": {"domain": [-7.6, 7.55], "nice": false, "zero": false}, "axis": null}, "x2": {"datum": 0.68}, "y": {"datum": 1376, "type": "quantitative", "scale": {"domain": [0, 2975], "nice": false}, "axis": null}, "y2": {"datum": 2133}}},
{"data": {"values": [{}]}, "mark": {"type": "point", "shape": "triangle-up", "filled": true, "size": 8, "angle": 328, "color": "#222222", "opacity": 1}, "encoding": {"x": {"datum": 0.68, "type": "quantitative", "scale": {"domain": [-7.6, 7.55], "nice": false, "zero": false}, "axis": null}, "y": {"datum": 2133, "type": "quantitative", "scale": {"domain": [0, 2975], "nice": false}, "axis": null}}},
{"data": {"values": [{}]}, "mark": {"type": "text", "text": ["Obama's first", "state of the union", "Feb 24, 2009"], "fontSize": 3.8, "fontStyle": "italic", "lineHeight": 4.9, "align": "center", "baseline": "top", "color": "#333333"}, "encoding": {"x": {"datum": 3.03, "type": "quantitative", "scale": {"domain": [-7.6, 7.55], "nice": false, "zero": false}, "axis": null}, "y": {"datum": 1263, "type": "quantitative", "scale": {"domain": [0, 2975], "nice": false}, "axis": null}}}
]
},
{
"width": 420, "height": 73.5,
"layer": [
{"data": {"values": [{}]}, "mark": {"type": "text", "text": "@bgoncalves", "font": "Liberation Serif", "fontStyle": "italic", "fontSize": 18.5, "color": "#222222", "align": "left", "baseline": "alphabetic"}, "encoding": {"x": {"datum": -189, "type": "quantitative", "scale": {"domain": [0, 420], "nice": false, "zero": false}, "axis": null}, "y": {"datum": 257.5, "type": "quantitative", "scale": {"domain": [0, 73.5], "nice": false, "zero": false, "reverse": true}, "axis": null}}},
{"data": {"values": [{}]}, "mark": {"type": "text", "text": "www.bgoncalves.com", "font": "Liberation Serif", "fontStyle": "italic", "fontSize": 18.5, "color": "#222222", "align": "right", "baseline": "alphabetic"}, "encoding": {"x": {"datum": 415, "type": "quantitative", "scale": {"domain": [0, 420], "nice": false, "zero": false}, "axis": null}, "y": {"datum": 257.5, "type": "quantitative", "scale": {"domain": [0, 73.5], "nice": false, "zero": false, "reverse": true}, "axis": null}}}
]
}
]
}
